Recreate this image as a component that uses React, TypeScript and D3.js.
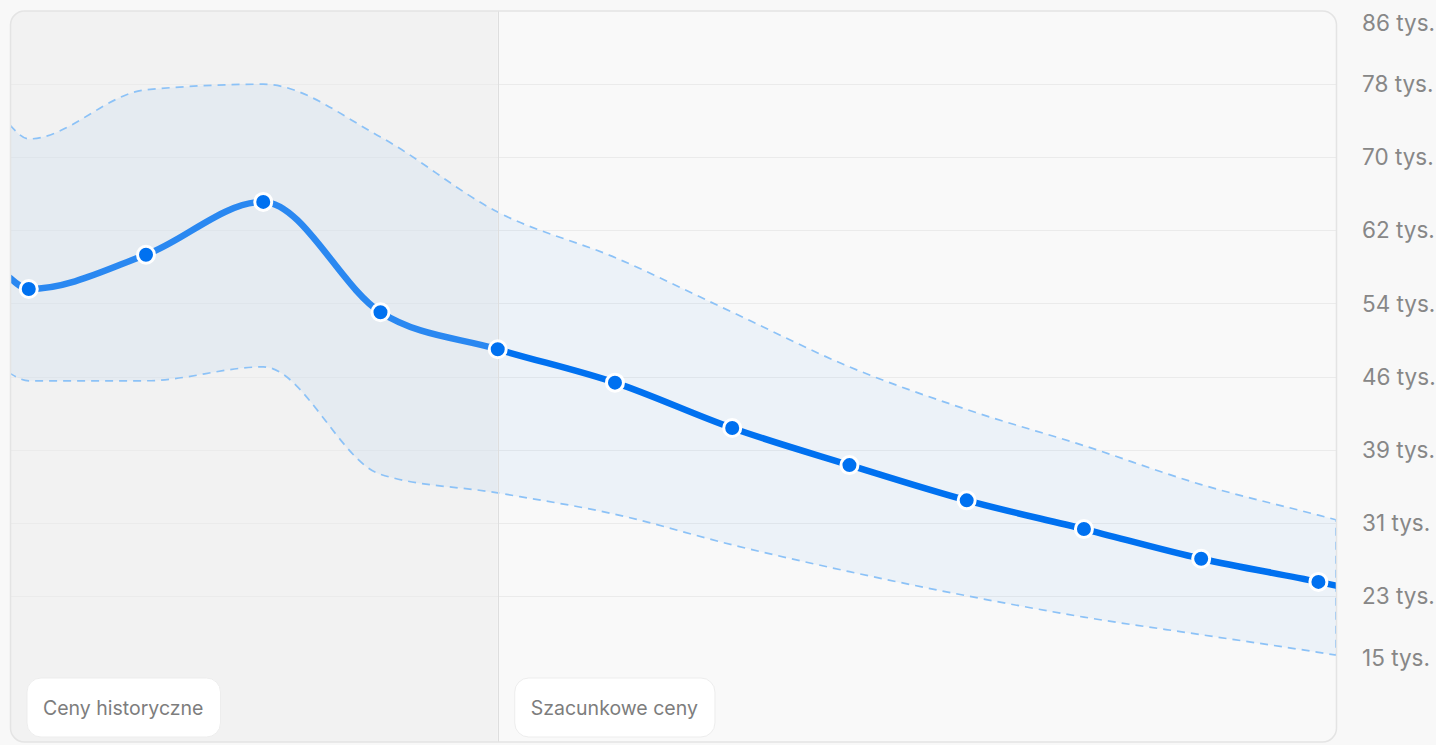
import React, { useEffect, useRef } from "react";
import * as d3 from "d3";

// position of every value along the time axis (first and last sit on the card edges, no dot)
const periods = [-0.16, 0, 1, 2, 3, 4, 5, 6, 7, 8, 9, 10, 11, 11.15];
const dotPeriods = [0, 1, 2, 3, 4, 5, 6, 7, 8, 9, 10, 11];
// prices in thousands
const priceMid = [57.2, 56.0, 59.7, 65.4, 53.5, 49.5, 45.9, 41.0, 37.0, 33.2, 30.1, 26.9, 24.4, 24.0];
const priceHigh = [73.7, 72.2, 77.5, 78.1, 72.4, 64.3, 59.4, 53.5, 47.6, 43.0, 39.1, 34.9, 31.6, 31.1];
const priceLow = [46.9, 46.1, 46.1, 47.6, 36.0, 34.0, 31.7, 28.4, 25.5, 22.9, 20.6, 18.7, 16.8, 16.5];
const historyEnd = 4; // last historical period
const yTickLabels = [
  "15 tys.",
  "23 tys.",
  "31 tys.",
  "39 tys.",
  "46 tys.",
  "54 tys.",
  "62 tys.",
  "70 tys.",
  "78 tys.",
  "86 tys.",
];
const yMin = 15;
const yMax = 86;
const pillLabels = ["Ceny historyczne", "Szacunkowe ceny"];

const App: React.FC = () => {
  const svgRef = useRef<SVGSVGElement | null>(null);

  useEffect(() => {
    const width = 1436;
    const height = 745;
    const cardLeft = 10.5;
    const cardRight = 1336.5;
    const cardTop = 11;
    const cardBottom = 742;
    const plotTop = 11;
    const plotBottom = 669;
    const blue = "#0071f0";
    const font = "Inter, 'Noto Sans', sans-serif";

    const svg = d3.select(svgRef.current);
    svg.selectAll("*").remove();
    svg.attr("viewBox", [0, 0, width, height]).attr("width", width).attr("height", height);

    const x = d3
      .scaleLinear()
      .domain([periods[0], periods[periods.length - 1]])
      .range([10, 1336]);
    const y = d3.scaleLinear().domain([yMin, yMax]).range([plotBottom, plotTop]);
    const tickValues = yTickLabels.map(
      (_, i) => yMin + (i * (yMax - yMin)) / (yTickLabels.length - 1),
    );

    svg.append("rect").attr("width", width).attr("height", height).attr("fill", "#f8f8f8");

    const defs = svg.append("defs");
    defs
      .append("clipPath")
      .attr("id", "card-clip")
      .append("rect")
      .attr("x", cardLeft)
      .attr("y", cardTop)
      .attr("width", cardRight - cardLeft)
      .attr("height", cardBottom - cardTop)
      .attr("rx", 14);
    defs
      .append("clipPath")
      .attr("id", "hist-clip")
      .append("rect")
      .attr("x", 0)
      .attr("y", 0)
      .attr("width", x(historyEnd))
      .attr("height", height);
    defs
      .append("clipPath")
      .attr("id", "fcst-clip")
      .append("rect")
      .attr("x", x(historyEnd))
      .attr("y", 0)
      .attr("width", width)
      .attr("height", height);

    const card = svg.append("g").attr("clip-path", "url(#card-clip)");

    card
      .append("rect")
      .attr("x", cardLeft)
      .attr("y", cardTop)
      .attr("width", cardRight - cardLeft)
      .attr("height", cardBottom - cardTop)
      .attr("fill", "#f9f9f9");
    // historical background
    card
      .append("rect")
      .attr("x", cardLeft)
      .attr("y", cardTop)
      .attr("width", x(historyEnd) - cardLeft)
      .attr("height", cardBottom - cardTop)
      .attr("fill", "#f2f2f2");

    // gridlines
    card
      .selectAll(".grid")
      .data(tickValues.slice(1, -1))
      .enter()
      .append("line")
      .attr("x1", cardLeft)
      .attr("x2", cardRight)
      .attr("y1", (d) => Math.round(y(d)) + 0.5)
      .attr("y2", (d) => Math.round(y(d)) + 0.5)
      .attr("stroke", "#ebebeb")
      .attr("stroke-width", 1);

    // confidence band
    const idx = d3.range(periods.length);
    const band = d3
      .area<number>()
      .x((i) => x(periods[i]))
      .y0((i) => y(priceLow[i]))
      .y1((i) => y(priceHigh[i]))
      .curve(d3.curveMonotoneX);
    card
      .append("path")
      .datum(idx)
      .attr("d", band)
      .attr("fill", "rgba(0,112,240,0.05)")
      .attr("stroke", "#8cc2f7")
      .attr("stroke-width", 1.7)
      .attr("stroke-dasharray", "8 6");

    // divider between history and forecast
    card
      .append("line")
      .attr("x1", Math.round(x(historyEnd)) + 0.5)
      .attr("x2", Math.round(x(historyEnd)) + 0.5)
      .attr("y1", cardTop)
      .attr("y2", cardBottom)
      .attr("stroke", "#dedede")
      .attr("stroke-width", 1);

    // main line
    const line = d3
      .line<number>()
      .x((i) => x(periods[i]))
      .y((i) => y(priceMid[i]))
      .curve(d3.curveMonotoneX);
    card
      .append("path")
      .datum(idx)
      .attr("d", line)
      .attr("clip-path", "url(#hist-clip)")
      .attr("fill", "none")
      .attr("stroke", blue)
      .attr("stroke-opacity", 0.82)
      .attr("stroke-width", 6.5)
      .attr("stroke-linecap", "round");
    card
      .append("path")
      .datum(idx)
      .attr("d", line)
      .attr("clip-path", "url(#fcst-clip)")
      .attr("fill", "none")
      .attr("stroke", blue)
      .attr("stroke-width", 6.5)
      .attr("stroke-linecap", "round");

    // dots
    card
      .selectAll(".dot")
      .data(dotPeriods)
      .enter()
      .append("circle")
      .attr("cx", (p) => x(p))
      .attr("cy", (p) => y(priceMid[periods.indexOf(p)]))
      .attr("r", 8.5)
      .attr("fill", blue)
      .attr("stroke", "#ffffff")
      .attr("stroke-width", 3);

    // pills
    const pillX = [cardLeft + 16.5, x(historyEnd) + 17];
    pillLabels.forEach((label, i) => {
      const g = card.append("g").attr("transform", `translate(${pillX[i]},678)`);
      const rect = g
        .append("rect")
        .attr("height", 59)
        .attr("rx", 14)
        .attr("fill", "#ffffff")
        .attr("stroke", "#ededed")
        .attr("stroke-width", 1);
      const text = g
        .append("text")
        .attr("x", 16)
        .attr("y", 30)
        .attr("dominant-baseline", "central")
        .attr("fill", "#7d7d7d")
        .style("font-family", font)
        .style("font-size", "19.5px")
        .text(label);
      const w = (text.node() as SVGTextElement).getComputedTextLength();
      rect.attr("width", w + 33);
    });

    // card border
    svg
      .append("rect")
      .attr("x", cardLeft)
      .attr("y", cardTop)
      .attr("width", cardRight - cardLeft)
      .attr("height", cardBottom - cardTop)
      .attr("rx", 14)
      .attr("fill", "none")
      .attr("stroke", "#e4e4e4")
      .attr("stroke-width", 1.5);

    // y labels
    svg
      .selectAll(".ylab")
      .data(tickValues)
      .enter()
      .append("text")
      .attr("x", 1362)
      .attr("y", (d) => y(d))
      .attr("dy", (_, i) => (i === 0 ? "-0.12em" : i === tickValues.length - 1 ? "0.88em" : "0.36em"))
      .attr("fill", "#878787")
      .style("font-family", font)
      .style("font-size", "22.5px")
      .text((_, i) => yTickLabels[i]);
  }, []);

  return (
    <div style={{ position: "fixed", left: 0, top: 0, width: 1436, height: 745 }}>
      <svg ref={svgRef} style={{ display: "block" }}></svg>
    </div>
  );
};

export default App;
